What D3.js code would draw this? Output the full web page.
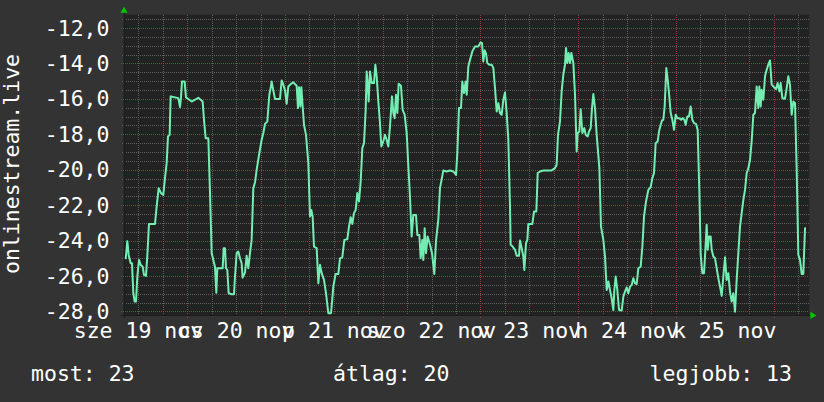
<!DOCTYPE html>
<html><head><meta charset="utf-8">
<script src="https://cdn.jsdelivr.net/npm/d3@7"></script>
<style>html,body{margin:0;padding:0;background:#333333;} svg{display:block}</style>
</head><body><svg id="c" width="824" height="402"></svg>
<script>
// hours since 2025-11-19 00:00 and the measured value at that moment
const hours = [8.86,9.27,9.60,10.09,10.42,10.74,11.07,11.40,11.73,12.14,12.54,13.04,13.36,13.85,14.18,14.59,16.07,16.47,16.97,17.54,18.11,18.52,18.93,19.26,19.67,19.91,20.57,21.80,22.21,22.45,22.70,23.35,23.68,24.25,25.07,25.89,26.71,27.28,27.77,28.10,28.51,29.17,29.58,29.99,30.48,30.80,31.13,31.38,32.03,32.69,32.93,33.26,33.51,33.83,34.16,34.90,35.47,35.72,36.13,36.54,36.95,37.35,37.60,38.17,38.58,38.99,39.40,39.81,40.22,40.63,41.04,41.69,42.27,42.68,43.09,43.66,44.15,44.48,44.72,45.13,45.54,46.77,47.18,47.59,48.00,48.41,48.82,49.39,50.05,50.86,51.19,51.44,51.77,52.01,52.34,52.67,53.16,53.73,54.14,54.47,54.79,55.12,55.78,56.19,56.60,57.01,57.58,58.07,58.64,59.30,59.63,59.87,60.44,61.10,61.51,62.08,62.57,63.31,63.72,64.13,64.54,64.95,65.36,65.77,66.18,66.59,67.00,67.41,67.82,68.06,68.39,68.55,68.88,69.29,69.86,70.19,70.52,70.93,71.33,71.66,72.15,72.56,72.97,73.38,73.79,74.28,74.61,74.94,75.26,75.59,75.92,76.49,76.90,77.40,77.89,78.30,78.70,79.11,79.52,80.18,80.51,81.00,81.33,81.73,81.98,82.31,82.64,83.04,83.62,84.11,84.68,85.09,85.66,86.07,
86.90,87.71,88.53,89.35,90.01,90.33,90.74,91.23,91.56,91.97,92.38,92.63,93.04,93.45,94.02,94.67,95.49,96.07,96.39,96.72,97.05,97.38,97.70,98.19,98.77,99.18,99.59,100.00,100.41,100.81,101.22,101.63,102.04,102.45,102.86,103.27,103.43,103.93,104.50,104.91,105.48,105.73,106.14,106.55,106.79,107.20,107.53,107.77,108.76,109.17,109.74,110.07,110.64,111.46,112.28,113.51,114.32,114.73,115.06,115.55,115.96,116.37,116.78,117.03,117.35,117.68,118.01,118.34,118.83,119.24,119.65,119.89,120.30,120.63,121.04,121.53,121.86,122.35,122.68,123.09,123.41,123.74,124.15,124.56,125.22,125.62,126.20,126.61,127.02,127.43,127.83,128.24,128.65,128.90,129.23,129.64,130.05,130.70,131.11,131.52,131.93,132.34,132.75,133.16,133.57,133.98,134.39,134.80,135.37,135.78,136.19,136.68,137.25,137.83,138.23,138.64,139.05,139.55,139.87,140.28,140.61,140.94,141.26,141.67,142.00,142.33,142.74,143.15,143.56,143.97,144.38,144.87,145.28,145.69,146.09,146.42,146.83,147.24,147.65,148.06,148.47,148.96,149.37,149.78,150.11,150.52,150.93,151.17,151.58,151.83,152.16,152.56,152.81,153.22,153.63,154.04,154.45,154.86,155.27,155.68,156.09,156.49,156.90,157.31,157.72,158.13,158.54,158.95,159.36,159.77,160.18,160.59,161.00,161.41,161.82,162.23,162.63,163.04,163.45,163.86,164.27,164.52,164.85,165.09,165.50,165.91,166.32,166.73,167.14,167.55,168.12,168.61,169.02,169.43,169.76,170.17,170.82,171.23,171.64,172.05,172.46,172.87,173.28,173.69,174.10,174.51,174.92,175.32,175.74,175.98];
const values = [-25.05,-24.03,-24.81,-25.28,-25.28,-26.97,-27.44,-27.44,-26.03,-25.09,-25.37,-25.47,-25.94,-25.99,-24.86,-23.06,-23.06,-22.08,-21.04,-21.32,-21.42,-20.48,-19.63,-18.12,-18.03,-15.86,-15.90,-15.96,-16.47,-15.92,-15.02,-15.02,-15.92,-16.01,-16.15,-16.05,-15.94,-16.05,-16.15,-17.18,-18.22,-18.22,-21.32,-24.71,-25.18,-25.47,-26.94,-25.56,-25.56,-25.56,-24.43,-24.43,-25.56,-25.66,-26.97,-27.03,-27.03,-26.03,-24.71,-24.62,-25.00,-25.28,-26.09,-25.81,-24.85,-25.56,-24.71,-23.96,-21.04,-20.72,-20.01,-19.06,-18.31,-17.93,-17.41,-17.28,-15.77,-15.39,-15.02,-15.52,-16.01,-16.01,-14.96,-15.20,-15.52,-16.28,-15.30,-15.17,-15.07,-15.26,-16.52,-15.34,-16.43,-15.34,-16.43,-17.46,-18.03,-19.63,-22.64,-22.27,-22.64,-24.34,-24.43,-26.41,-25.37,-25.84,-26.22,-26.97,-28.10,-28.10,-27.26,-26.60,-25.88,-25.88,-25.00,-24.94,-23.96,-23.92,-23.21,-22.68,-23.06,-22.45,-22.27,-21.32,-21.79,-20.66,-18.78,-18.50,-16.62,-14.45,-15.39,-16.15,-14.45,-15.11,-15.11,-14.07,-14.73,-16.15,-17.37,-18.69,-18.40,-18.03,-18.31,-18.69,-17.56,-15.86,-16.80,-17.09,-15.77,-16.80,-15.15,-15.26,-16.62,-16.90,-17.93,-19.82,-21.51,-23.77,-22.55,-22.55,-23.68,-23.68,-25.00,-23.96,-25.09,-23.30,-24.71,-23.77,-24.24,-24.71,-25.88,-24.03,-22.83,-21.04,
-20.04,-20.10,-20.04,-20.10,-20.29,-19.06,-16.52,-16.52,-15.02,-15.67,-15.02,-15.77,-14.17,-13.79,-13.32,-13.04,-13.04,-12.81,-12.85,-13.89,-13.26,-13.45,-13.98,-14.07,-14.07,-14.26,-15.39,-16.71,-16.24,-16.80,-16.90,-16.05,-15.64,-16.80,-18.31,-22.08,-24.24,-24.34,-24.52,-24.86,-24.86,-24.00,-24.43,-24.90,-25.66,-24.15,-23.96,-23.06,-23.06,-22.36,-22.36,-20.19,-20.10,-20.04,-20.04,-20.04,-19.91,-19.72,-18.03,-17.28,-15.58,-14.64,-14.07,-13.13,-13.98,-13.41,-13.98,-13.41,-13.98,-15.77,-18.97,-17.93,-17.84,-16.58,-17.93,-17.65,-18.03,-18.12,-17.84,-17.65,-16.52,-15.73,-16.52,-18.03,-19.91,-23.21,-23.96,-24.90,-26.79,-26.31,-26.79,-27.26,-27.92,-26.79,-26.03,-26.79,-27.92,-27.95,-27.16,-26.88,-26.64,-26.97,-26.60,-26.50,-26.13,-26.41,-26.45,-25.56,-25.47,-24.34,-22.64,-21.79,-21.14,-20.98,-20.48,-20.19,-18.50,-18.40,-17.84,-17.46,-17.22,-17.18,-16.43,-14.26,-14.92,-15.67,-16.80,-17.18,-17.75,-16.90,-17.09,-17.09,-17.18,-17.09,-17.18,-17.46,-16.99,-16.99,-16.43,-17.18,-17.37,-17.41,-17.75,-21.23,-24.81,-25.84,-25.84,-24.90,-23.11,-24.52,-23.77,-23.77,-24.52,-24.90,-25.00,-25.56,-26.13,-26.60,-27.12,-26.03,-24.94,-26.22,-25.84,-26.88,-27.44,-26.97,-28.01,-26.22,-24.71,-23.21,-22.45,-21.70,-21.14,-20.19,-19.91,-19.44,-18.40,-16.90,-16.80,-15.30,-16.52,-15.30,-16.43,-15.49,-16.05,-14.73,-14.36,-14.07,-13.83,-15.20,-15.34,-15.45,-15.11,-15.58,-15.11,-15.96,-15.99,-15.39,-14.73,-15.20,-16.90,-16.15,-16.24,-20.01,-24.81,-25.09,-25.88,-25.88,-23.30,-23.30];

const yTicks = [-28, -26, -24, -22, -20, -18, -16, -14, -12];
const dayLabels = ["sze 19 nov", "cs 20 nov", "p 21 nov", "szo 22 nov", "v 23 nov", "h 24 nov", "k 25 nov"];
const axisTitle = "onlinestream.live";
const legendLabels = ["most: 23", "átlag: 20", "legjobb: 13"];

const DAY0 = Date.UTC(2025, 10, 19);
const HOUR = 3600 * 1000;
const t = h => new Date(DAY0 + h * HOUR);

const svg = d3.select("#c");
const W = 824, H = 402;
const L = 123.5, R = 809.3, T = 14.7, B = 315;
const FONT = "'DejaVu Sans Mono', monospace";
const FS = 21.5;

svg.append("rect").attr("width", W).attr("height", H).attr("fill", "#333333");
svg.append("rect").attr("x", L).attr("y", T).attr("width", R - L).attr("height", B - T).attr("fill", "#222222");

const x = d3.scaleUtc().domain([t(8.33), t(176.79)]).range([L, R]);
const y = d3.scaleLinear().domain([-28.2, -11.25]).range([B, T]);

const g = svg.append("g").attr("shape-rendering", "crispEdges");

// horizontal grid
const minorY = d3.range(-28, -11.25, 0.5).filter(v => Math.abs(v % 2) > 0.01);
g.selectAll(".hmin").data(minorY).join("line")
  .attr("x1", L - 2).attr("x2", R).attr("y1", d => Math.round(y(d)) + 0.5).attr("y2", d => Math.round(y(d)) + 0.5)
  .attr("stroke", "#5e5e5e").attr("stroke-dasharray", "1,1");
g.selectAll(".hmaj").data(yTicks).join("line")
  .attr("x1", L - 3).attr("x2", R).attr("y1", d => Math.round(y(d)) + 0.5).attr("y2", d => Math.round(y(d)) + 0.5)
  .attr("stroke", "#8f3e3e").attr("stroke-dasharray", "1,1");

// vertical grid: every 6 hours, major at midnight
const sixH = d3.utcHour.every(6).range(x.domain()[0], x.domain()[1]);
const minorX = sixH.filter(d => d.getUTCHours() !== 0);
const majorX = sixH.filter(d => d.getUTCHours() === 0);
g.selectAll(".vmin").data(minorX).join("line")
  .attr("x1", d => Math.round(x(d)) + 0.5).attr("x2", d => Math.round(x(d)) + 0.5).attr("y1", T).attr("y2", B + 2)
  .attr("stroke", "#5e5e5e").attr("stroke-dasharray", "1,1");
g.selectAll(".vmaj").data(majorX).join("line")
  .attr("x1", d => Math.round(x(d)) + 0.5).attr("x2", d => Math.round(x(d)) + 0.5).attr("y1", T).attr("y2", B + 3)
  .attr("stroke", "#8f3e3e").attr("stroke-dasharray", "1,1");

// axes
g.append("line").attr("x1", L - 3).attr("x2", R + 2).attr("y1", B + 0.5).attr("y2", B + 0.5).attr("stroke", "#1c1c1c");
g.append("line").attr("x1", L + 0.5).attr("x2", L + 0.5).attr("y1", T - 4).attr("y2", B + 3).attr("stroke", "#1c1c1c");

// arrows
svg.append("path").attr("d", `M${L - 3},${T - 2} L${L + 4},${T - 2} L${L + 0.5},${T - 8} Z`).attr("fill", "#00c800");
svg.append("path").attr("d", `M${R + 1},${B - 3.5} L${R + 1},${B + 4} L${R + 7},${B + 0.5} Z`).attr("fill", "#00c800");

// data line
const pts = hours.map((h, i) => [t(h), values[i]]);
svg.append("path").datum(pts)
  .attr("d", d3.line().x(d => x(d[0])).y(d => y(d[1])))
  .attr("fill", "none").attr("stroke", "#72eeb2").attr("stroke-width", 2).attr("stroke-linejoin", "round");

// y labels
svg.selectAll(".yl").data(yTicks).join("text")
  .attr("x", 109.5).attr("y", d => y(d) + 7.6).attr("text-anchor", "end")
  .attr("font-family", FONT).attr("font-size", FS).attr("fill", "#ffffff")
  .text(d => d.toFixed(1).replace(".", ","));

// x labels at noon
svg.selectAll(".xl").data(dayLabels).join("text")
  .attr("x", (d, i) => x(t(12 + 24 * i))).attr("y", 338).attr("text-anchor", "middle")
  .attr("font-family", FONT).attr("font-size", FS).attr("fill", "#ffffff")
  .text(d => d);

// axis title
svg.append("text").attr("transform", "translate(18.5,164) rotate(-90)").attr("text-anchor", "middle")
  .attr("font-family", FONT).attr("font-size", FS).attr("fill", "#ffffff").text(axisTitle);

// legend
const legX = [31, 333, 792];
const legA = ["start", "start", "end"];
svg.selectAll(".lg").data(legendLabels).join("text")
  .attr("x", (d, i) => legX[i]).attr("y", 381).attr("text-anchor", (d, i) => legA[i])
  .attr("font-family", FONT).attr("font-size", FS).attr("fill", "#ffffff").text(d => d);
</script></body></html>
